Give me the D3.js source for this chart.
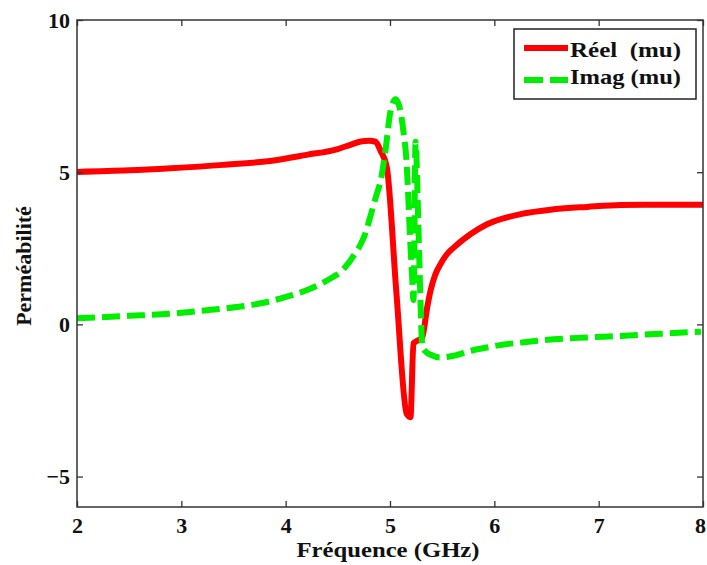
<!DOCTYPE html>
<html><head><meta charset="utf-8">
<script src="https://cdn.jsdelivr.net/npm/d3@7"></script>
<style>body{margin:0;background:#fff}svg{display:block}text{font-family:"Liberation Serif","Times New Roman",Times,serif;font-weight:bold;fill:#111}</style>
</head><body><svg id="c" width="707" height="565"></svg>
<script>
// Real part of permeability (mu)
const realFreq = [2.0,2.5,2.9,3.4,3.85,4.2,4.5,4.62,4.72,4.80,4.86,4.91,4.97,5.06,5.16,5.196,5.225,5.26,5.308,5.356,5.388,5.43,5.484,5.54,5.61,5.77,5.93,6.25,6.57,6.89,7.21,7.6,8.0];
const realVal  = [5.01,5.06,5.13,5.24,5.37,5.57,5.76,5.90,6.01,6.03,6.0,5.70,5.15,1.1,-2.94,-3.05,-0.62,-0.54,-0.43,0.55,1.10,1.60,1.98,2.28,2.52,2.96,3.29,3.62,3.78,3.86,3.92,3.93,3.93];
// Imaginary part of permeability (mu)
const imagFreq = [2.0,2.5,2.89,3.2,3.53,3.8,4.01,4.2,4.33,4.45,4.52,4.59,4.66,4.72,4.76,4.82,4.87,4.91,4.96,5.0,5.03,5.052,5.075,5.10,5.13,5.16,5.175,5.19,5.21,5.225,5.245,5.27,5.29,5.31,5.35,5.39,5.48,5.61,5.77,5.93,6.09,6.25,6.41,6.57,6.89,7.21,7.53,7.98];
const imagVal  = [0.20,0.28,0.35,0.45,0.57,0.72,0.91,1.12,1.32,1.55,1.70,1.96,2.30,2.64,2.95,3.65,4.25,4.71,5.81,6.91,7.30,7.40,7.30,7.0,6.3,5.26,4.2,3.0,1.7,0.8,6.0,3.5,1.0,-0.72,-0.92,-1.0,-1.09,-1.03,-0.87,-0.76,-0.66,-0.60,-0.54,-0.49,-0.43,-0.38,-0.32,-0.24];
const xTicks = [2,3,4,5,6,7,8];
const yTicks = [-5,0,5,10];
const legendLabels = ["Réel  (mu)","Imag (mu)"];
const seriesColors = ["#ff0000","#00ee00"];

const svg = d3.select("#c");
const L=77,R=703,T=20,B=507;
const x = d3.scaleLinear().domain([2,8]).range([L,R]);
const y = d3.scaleLinear().domain([-6,10]).range([B,T]);

svg.append("clipPath").attr("id","cp").append("rect").attr("x",L).attr("y",T).attr("width",R-L).attr("height",B-T);

const line = d3.line().x(d=>x(d[0])).y(d=>y(d[1])).curve(d3.curveMonotoneX);
const realData = realFreq.map((f,i)=>[f,realVal[i]]);
const imagData = imagFreq.map((f,i)=>[f,imagVal[i]]);

const g = svg.append("g").attr("clip-path","url(#cp)");
g.append("path").attr("d",line(realData)).attr("fill","none").attr("stroke",seriesColors[0]).attr("stroke-width",6).attr("stroke-linejoin","round");
g.append("path").attr("d",line(imagData)).attr("fill","none").attr("stroke",seriesColors[1]).attr("stroke-width",6).attr("stroke-dasharray","18,7");

// axes with inward ticks on all sides
const axCol="#333";
const fontFam='"Liberation Serif","Times New Roman",Times,serif';
function styleAx(sel){sel.attr("font-family",null).attr("font-size",null);sel.select(".domain").remove();sel.selectAll("line").attr("stroke",axCol).attr("stroke-width",1.3);sel.selectAll("text").attr("fill","#111").style("font-family",fontFam).style("font-size","22px").style("font-weight","bold");}
const xb = svg.append("g").attr("transform",`translate(0,${B})`).call(d3.axisBottom(x).tickValues(xTicks).tickFormat(d3.format("d")).tickSizeInner(-6).tickSizeOuter(0).tickPadding(10)).call(styleAx);
// keep the last label inside the page edge, as in the reference
xb.selectAll(".tick text").filter(d=>d===8).attr("x",-3);
svg.append("g").attr("transform",`translate(0,${T})`).call(d3.axisTop(x).tickValues(xTicks).tickSizeInner(-6).tickSizeOuter(0).tickFormat("")).call(styleAx);
svg.append("g").attr("transform",`translate(${L},0)`).call(d3.axisLeft(y).tickValues(yTicks).tickFormat(d3.format("d")).tickSizeInner(-6).tickSizeOuter(0).tickPadding(7)).call(styleAx);
svg.append("g").attr("transform",`translate(${R},0)`).call(d3.axisRight(y).tickValues(yTicks).tickSizeInner(-6).tickSizeOuter(0).tickFormat("")).call(styleAx);
svg.append("rect").attr("x",L).attr("y",T).attr("width",R-L).attr("height",B-T).attr("fill","none").attr("stroke",axCol).attr("stroke-width",1.5);

// titles
svg.append("text").attr("x",388).attr("y",557).attr("text-anchor","middle").attr("font-size",22).attr("textLength",183).attr("lengthAdjust","spacingAndGlyphs").text("Fréquence (GHz)");
svg.append("text").attr("transform","translate(31,266) rotate(-90)").attr("text-anchor","middle").attr("font-size",22).text("Perméabilité");

// legend
const lg = svg.append("g");
lg.append("rect").attr("x",514).attr("y",29).attr("width",182).attr("height",70).attr("fill","#fff").attr("stroke","#222").attr("stroke-width",1.5);
[0,1].forEach(i=>{
  const yy = i===0?48:80;
  lg.append("line").attr("x1",524).attr("x2",568).attr("y1",yy).attr("y2",yy).attr("stroke",seriesColors[i]).attr("stroke-width",6).attr("stroke-dasharray",i===1?"19,7":null);
  lg.append("text").attr("x",570).attr("y",i===0?57:84).attr("font-size",22).attr("textLength",111).attr("lengthAdjust","spacingAndGlyphs").style("white-space","pre").text(legendLabels[i]);
});
</script></body></html>
